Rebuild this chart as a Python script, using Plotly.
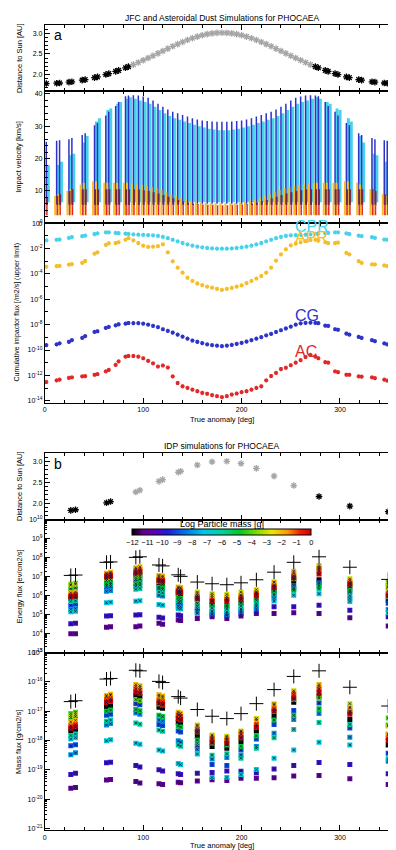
import plotly.graph_objects as go

# ---------------- DATA: panel a (JFC / asteroidal dust) ----------------
ta_a = [1.5, 12, 15, 24.5, 27.5, 38, 41, 50.5, 53.5, 62, 65, 72, 75, 82, 85,
        90, 95, 100, 105, 110, 115, 120, 125, 130, 135, 140, 145, 150, 155, 160, 165, 170, 175,
        180, 185, 190, 195, 200, 205, 210, 215, 220, 225, 230, 235, 240, 245, 250, 255, 260, 265, 270,
        275, 278, 285, 288, 295, 298, 306.5, 309.5, 319, 322, 332.5, 335.5, 345, 348, 358.5]
r_a = [1.788, 1.796, 1.801, 1.821, 1.830, 1.869, 1.882, 1.931, 1.948, 2.004, 2.026, 2.080, 2.105, 2.167, 2.195,
       2.244, 2.295, 2.348, 2.403, 2.458, 2.515, 2.572, 2.629, 2.684, 2.738, 2.789, 2.837, 2.880, 2.918, 2.951,
       2.977, 2.996, 3.008, 3.012, 3.008, 2.996, 2.977, 2.951, 2.918, 2.880, 2.837, 2.789, 2.738, 2.684, 2.629,
       2.572, 2.515, 2.458, 2.403, 2.348, 2.295, 2.244,
       2.195, 2.167, 2.105, 2.080, 2.026, 2.004, 1.948, 1.931, 1.882, 1.869, 1.830, 1.821, 1.801, 1.796, 1.788]

# impact velocity ranges [km/s]
v_cg_max = [25.2, 25.5, 25.7, 26.0, 26.4, 27.3, 27.8, 30.3, 31.0, 33.3, 34.5, 36.3, 37.5, 39.3, 39.5,
            39.6, 39.5, 39.2, 38.8, 38.0, 37.0, 36.0, 35.2, 34.5, 34.0, 33.5, 33.0, 32.5, 32.1, 31.8, 31.6, 31.5, 31.4,
            31.4, 31.4, 31.5, 31.6, 31.8, 32.1, 32.5, 33.0, 33.5, 34.0, 34.5, 35.2, 36.0, 37.0, 38.0, 38.8, 39.2, 39.5, 39.6,
            39.5, 39.3, 37.5, 36.3, 34.5, 33.3, 31.0, 30.3, 27.8, 27.3, 26.4, 26.0, 25.7, 25.5, 25.2]
v_cpr_max = [18.0, 18.0, 19.0, 21.0, 21.5, 25.0, 27.0, 31.5, 32.5, 35.0, 35.5, 37.0, 37.5, 38.5, 39.0,
             38.5, 38.0, 37.5, 37.0, 36.0, 35.0, 34.0, 33.2, 32.5, 32.0, 31.5, 31.0, 30.5, 30.0, 29.6, 29.2, 29.0, 28.8,
             28.8, 28.8, 29.0, 29.2, 29.6, 30.0, 30.5, 31.0, 31.5, 32.0, 32.5, 33.2, 34.0, 35.0, 36.0, 37.0, 37.5, 38.0, 38.5,
             39.0, 38.5, 37.5, 37.0, 35.5, 35.0, 32.5, 31.5, 27.0, 25.0, 21.5, 21.0, 19.0, 18.0, 18.0]
v_apr_max = [8.0, 8.5, 9.0, 10.0, 10.5, 12.0, 12.5, 13.0, 13.0, 12.5, 12.5, 12.5, 12.5, 12.5, 12.5,
             12.2, 12.0, 11.8, 11.5, 11.2, 10.8, 10.3, 9.6, 9.0, 8.4, 7.8, 7.3, 6.9, 6.6, 6.4, 6.3, 6.2, 6.2,
             6.2, 6.2, 6.2, 6.3, 6.4, 6.6, 6.9, 7.3, 7.8, 8.4, 9.0, 9.6, 10.3, 10.8, 11.2, 11.5, 11.8, 12.0, 12.2,
             12.5, 12.5, 12.5, 12.5, 12.5, 12.5, 13.0, 13.0, 12.5, 12.0, 10.5, 10.0, 9.0, 8.5, 8.0]
v_ac_max = [8.0, 8.5, 9.0, 10.0, 10.5, 10.5, 10.5, 10.5, 10.5, 10.5, 10.5, 10.5, 10.5, 10.5, 10.5,
            10.5, 10.4, 10.2, 10.0, 9.6, 9.2, 8.7, 8.2, 7.7, 7.2, 6.8, 6.4, 6.1, 5.9, 5.8, 5.7, 5.7, 5.6,
            5.6, 5.6, 5.7, 5.7, 5.8, 5.9, 6.1, 6.4, 6.8, 7.2, 7.7, 8.2, 8.7, 9.2, 9.6, 10.0, 10.2, 10.4, 10.5,
            10.5, 10.5, 10.5, 10.5, 10.5, 10.5, 10.5, 10.5, 10.5, 10.5, 10.5, 10.0, 9.0, 8.5, 8.0]
v_cg_min = 6.0
v_cpr_min = 6.5
v_apr_min = 2.5
v_ac_min = 2.5
v_ac_low_top = 5.5

# cumulative impactor flux, log10 [/m2/s]
logf_cpr = [-1.35, -1.3, -1.28, -1.15, -1.1, -1.02, -0.98, -0.85, -0.8, -0.72, -0.72, -0.76, -0.78, -0.82, -0.84,
            -0.88, -0.9, -0.92, -0.94, -0.96, -1.0, -1.08, -1.18, -1.3, -1.43, -1.56, -1.67, -1.77, -1.85, -1.9, -1.95, -1.98, -2.0,
            -2.0, -2.0, -1.98, -1.95, -1.9, -1.85, -1.77, -1.67, -1.56, -1.43, -1.3, -1.18, -1.08, -1.0, -0.96, -0.94, -0.92, -0.9, -0.88,
            -0.84, -0.82, -0.78, -0.76, -0.72, -0.72, -0.8, -0.85, -0.98, -1.02, -1.1, -1.15, -1.28, -1.3, -1.35]
logf_apr = [-3.43, -3.38, -3.36, -3.27, -3.22, -3.12, -2.98, -2.4, -2.3, -1.7, -1.58, -1.56, -1.5, -1.3, -1.17,
            -1.35, -1.56, -1.77, -1.87, -1.84, -1.8, -1.66, -2.3, -3.0, -3.5, -3.9, -4.3, -4.55, -4.75, -4.88, -5.0, -5.08, -5.17,
            -5.25, -5.18, -5.1, -5.0, -4.9, -4.72, -4.55, -4.36, -4.16, -3.9, -3.5, -2.95, -2.45, -2.05, -1.75, -1.6, -1.5, -1.4, -1.32,
            -1.3, -1.35, -1.5, -1.56, -1.56, -1.52, -2.34, -2.45, -2.99, -3.12, -3.25, -3.25, -3.33, -3.38, -3.43]
logf_cg = [-9.61, -9.55, -9.48, -9.35, -9.22, -9.04, -8.91, -8.57, -8.52, -8.26, -8.18, -8.05, -7.97, -7.92, -7.87,
           -7.88, -7.88, -7.92, -8.0, -8.1, -8.2, -8.36, -8.49, -8.62, -8.78, -8.94, -9.1, -9.25, -9.35, -9.45, -9.56, -9.61, -9.66,
           -9.69, -9.66, -9.6, -9.52, -9.43, -9.33, -9.22, -9.1, -8.98, -8.85, -8.72, -8.58, -8.44, -8.3, -8.15, -8.0, -7.9, -7.86, -7.84,
           -7.86, -7.88, -8.08, -8.1, -8.36, -8.4, -8.7, -8.78, -8.96, -9.04, -9.22, -9.3, -9.48, -9.55, -9.61]
logf_ac = [-12.52, -12.39, -12.34, -12.2, -12.16, -12.08, -12.06, -11.95, -11.9, -11.69, -11.56, -11.17, -10.9, -10.52, -10.47,
           -10.47, -10.52, -10.65, -10.85, -11.05, -11.3, -11.22, -11.38, -12.08, -12.6, -12.86, -12.99, -13.12, -13.25, -13.38, -13.45, -13.56, -13.64,
           -13.71, -13.64, -13.51, -13.43, -13.32, -13.25, -13.12, -12.99, -12.86, -12.4, -12.05, -11.8, -11.5, -11.4, -11.2, -11.0, -10.8, -10.55, -10.39,
           -10.52, -10.65, -10.96, -11.0, -11.69, -11.74, -11.95, -11.95, -12.08, -12.1, -12.16, -12.22, -12.34, -12.42, -12.52]
pop_names = ["CPR", "APR", "CG", "AC"]

# ---------------- DATA: panel b (IDP) ----------------
ta_b = [26.4, 31.2, 62.7, 66.8, 92.5, 96.6, 116.0, 119.7, 135.6, 138.0,
        155.0, 170.0, 185.0, 199.4, 215.0, 233.0, 253.0, 278.7, 310.0, 349.0]
r_b = [1.827, 1.842, 2.009, 2.039, 2.269, 2.312, 2.526, 2.568, 2.744, 2.769,
       2.918, 2.996, 3.008, 2.955, 2.837, 2.651, 2.425, 2.161, 1.928, 1.795]
mass_bins = [-12, -11, -10, -9, -8, -7, -6, -5, -4, -3, -2, -1, 0]
energy_total_log = [7.07, 7.09, 7.76, 7.78, 8.02, 8.05, 7.62, 7.57, 7.1, 7.02,
                    6.72, 6.63, 6.58, 6.68, 6.84, 7.24, 7.76, 8.05, 7.5, 6.86]
mass_total_log = [-16.67, -16.64, -15.9, -15.88, -15.6, -15.62, -15.98, -16.02, -16.5, -16.55,
                  -16.94, -17.17, -17.25, -17.08, -16.74, -16.26, -15.81, -15.62, -16.18, -16.82]
energy_log = [
    [5.85, 4.0, 4.52, 5.5, 5.28, 5.15, 5.7, 6.37, 6.6, 6.55, 6.16, 6.02, 5.95],
    [5.88, 4.0, 4.55, 5.55, 5.32, 5.18, 5.73, 6.42, 6.66, 6.6, 6.2, 6.06, 5.98],
    [6.8, 4.34, 4.93, 6.46, 6.23, 5.63, 6.55, 6.63, 6.9, 7.15, 7.19, 7.05, 6.98],
    [6.85, 4.36, 4.95, 6.5, 6.28, 5.66, 6.6, 6.68, 6.95, 7.2, 7.24, 7.1, 7.02],
    [7.07, 4.37, 4.98, 6.84, 6.5, 5.71, 6.34, 6.63, 6.95, 7.4, 7.47, 7.29, 7.2],
    [7.1, 4.4, 5.0, 6.88, 6.55, 5.74, 6.38, 6.68, 7.0, 7.44, 7.52, 7.34, 7.25],
    [6.63, 4.55, 4.86, 6.37, 6.02, 5.54, 6.2, 6.45, 6.75, 7.0, 7.07, 6.86, 6.8],
    [6.6, 4.5, 4.82, 6.33, 5.98, 5.5, 6.15, 6.42, 6.72, 6.97, 7.04, 6.83, 6.76],
    [6.11, 4.72, 4.98, 5.63, 5.45, 5.33, 5.75, 5.9, 6.2, 6.4, 6.46, 6.28, 6.2],
    [6.08, 4.7, 4.95, 5.6, 5.42, 5.3, 5.72, 5.87, 6.17, 6.37, 6.43, 6.25, 6.17],
    [5.8, 4.8, 5.2, 5.33, 5.1, 5.07, 5.45, 5.6, 6.0, 6.19, 6.1, 5.93, 5.85],
    [5.5, 4.89, 5.0, 5.15, 5.05, 5.2, 5.35, 5.55, 5.9, 6.11, 6.0, 5.76, 5.7],
    [5.42, 4.8, 4.95, 5.07, 5.0, 5.15, 5.3, 5.5, 5.85, 6.07, 5.95, 5.8, 5.7],
    [5.59, 4.93, 5.05, 5.24, 5.15, 5.3, 5.45, 5.65, 6.0, 6.19, 6.05, 5.9, 5.8],
    [5.76, 5.07, 5.2, 5.42, 5.3, 5.5, 5.6, 5.85, 6.15, 6.32, 6.2, 6.1, 6.0],
    [6.28, 5.07, 5.42, 6.02, 5.85, 5.72, 6.1, 6.25, 6.55, 6.7, 6.72, 6.5, 6.42],
    [6.8, 5.1, 5.42, 6.54, 6.4, 6.02, 6.28, 6.35, 6.9, 7.2, 7.29, 7.05, 6.95],
    [6.84, 5.07, 5.5, 6.7, 6.63, 6.11, 6.37, 6.5, 7.3, 7.59, 7.5, 7.41, 7.15],
    [6.46, 4.84, 5.24, 6.19, 5.85, 5.7, 6.0, 6.3, 6.6, 6.89, 6.8, 6.67, 6.6],
    [5.76, 4.4, 4.89, 5.6, 5.28, 5.1, 5.95, 6.46, 6.72, 6.6, 6.25, 6.1, 6.0],
]
massflux_log = [
    [-17.67, -19.63, -19.16, -18.18, -18.48, -17.95, -17.83, -17.22, -17.08, -17.15, -17.36, -17.5, -17.58],
    [-17.63, -19.6, -19.12, -18.14, -18.42, -17.9, -17.78, -17.17, -17.03, -17.1, -17.31, -17.45, -17.53],
    [-16.86, -19.35, -18.76, -17.14, -17.47, -18.01, -17.34, -17.0, -16.7, -16.5, -16.46, -16.61, -16.7],
    [-16.82, -19.33, -18.74, -17.1, -17.42, -17.97, -17.3, -16.96, -16.66, -16.46, -16.42, -16.57, -16.66],
    [-16.46, -19.4, -18.85, -16.74, -17.06, -18.09, -17.4, -16.94, -16.6, -16.15, -16.09, -16.24, -16.35],
    [-16.5, -19.45, -18.9, -16.78, -17.1, -18.13, -17.44, -16.98, -16.64, -16.19, -16.13, -16.28, -16.39],
    [-16.86, -19.47, -19.0, -17.45, -17.3, -18.32, -17.64, -17.14, -16.75, -16.5, -16.44, -16.63, -16.72],
    [-16.9, -19.5, -19.04, -17.49, -17.34, -18.36, -17.68, -17.18, -16.79, -16.54, -16.48, -16.67, -16.76],
    [-17.38, -19.42, -19.13, -17.67, -18.01, -18.78, -18.15, -17.5, -17.25, -17.1, -17.03, -17.14, -17.25],
    [-17.42, -19.44, -19.16, -17.71, -18.05, -18.82, -18.19, -17.54, -17.29, -17.14, -17.07, -17.18, -17.29],
    [-17.85, -19.38, -19.12, -18.18, -18.3, -18.46, -18.1, -17.98, -17.7, -17.47, -17.5, -17.62, -17.7],
    [-18.2, -19.34, -19.09, -18.82, -18.63, -19.26, -18.5, -18.09, -17.9, -17.81, -17.85, -17.95, -18.05],
    [-18.26, -19.36, -19.04, -18.85, -18.58, -19.26, -18.45, -18.15, -17.95, -17.85, -17.9, -18.0, -18.1],
    [-18.04, -19.29, -19.05, -18.32, -18.5, -19.16, -18.6, -18.2, -17.9, -17.67, -17.7, -17.78, -17.9],
    [-17.67, -19.29, -19.1, -17.95, -18.2, -18.99, -18.26, -17.84, -17.5, -17.25, -17.3, -17.45, -17.55],
    [-17.17, -19.27, -18.97, -17.45, -17.75, -18.6, -17.9, -17.3, -17.0, -16.74, -16.78, -16.91, -17.0],
    [-16.69, -19.21, -18.85, -16.97, -17.28, -18.32, -17.62, -17.14, -16.6, -16.3, -16.35, -16.43, -16.55],
    [-16.49, -19.19, -18.75, -16.72, -17.08, -18.06, -17.38, -16.91, -16.55, -16.15, -16.09, -16.24, -16.35],
    [-17.28, -19.3, -18.82, -17.57, -17.89, -18.15, -17.45, -17.0, -16.86, -16.74, -16.9, -17.03, -17.1],
    [-18.15, -19.5, -19.13, -18.43, -18.71, -18.62, -17.8, -17.47, -17.23, -17.5, -17.78, -17.92, -18.0],
]

# ---------------- STYLE ----------------
W, H = 396, 850
FONT = "Liberation Sans"
X0, X1 = 35, 391
PANELS = [(13, 80), (80, 213), (213, 394), (445, 512), (512, 646), (646, 825)]
C_CPR = "rgb(70,210,235)"
C_APR = "rgb(245,190,40)"
C_CG = "rgb(45,50,200)"
C_AC = "rgb(225,40,40)"
C_MAROON = "rgb(120,35,75)"
CSCALE = [[0, 'rgb(0,0,0)'], [0.06, 'rgb(100,0,130)'], [0.13, 'rgb(90,0,190)'], [0.2, 'rgb(25,30,220)'],
          [0.3, 'rgb(0,120,230)'], [0.4, 'rgb(0,200,230)'], [0.5, 'rgb(0,210,160)'], [0.6, 'rgb(0,200,40)'],
          [0.7, 'rgb(130,220,0)'], [0.78, 'rgb(240,230,0)'], [0.87, 'rgb(255,150,0)'], [0.94, 'rgb(240,30,0)'],
          [1, 'rgb(210,0,0)']]


def px2paper_y(y):
    return 1 - y / H


def segs(xs, lo, hi, dx):
    X, Y = [], []
    for i, x in enumerate(xs):
        l = lo[i] if isinstance(lo, list) else lo
        h = hi[i] if isinstance(hi, list) else hi
        if h <= l:
            continue
        X += [x + dx, x + dx, None]
        Y += [l, h, None]
    return X, Y


fig = go.Figure()

# panel a: distance
dist_col_a = ['black' if (t < 88 or t > 272) else 'rgb(165,165,165)' for t in ta_a]
fig.add_trace(go.Scatter(x=ta_a, y=r_a, mode='markers', xaxis='x', yaxis='y',
                         marker=dict(symbol='asterisk-open', size=5.5, color=dist_col_a, line=dict(width=1.3))))

# panel a: velocity bars
for lo, hi, col, lw, dx in [(v_cpr_min, v_cpr_max, C_CPR, 3, 2.0),
                            (v_cg_min, v_cg_max, C_CG, 1.5, 0.0),
                            (v_apr_min, v_apr_max, C_APR, 2, -1.5),
                            (v_ac_low_top, v_ac_max, C_MAROON, 2, 0.6),
                            (v_ac_min, v_ac_low_top, C_AC, 1.5, 0.6)]:
    X, Y = segs(ta_a, lo, hi, dx)
    fig.add_trace(go.Scatter(x=X, y=Y, mode='lines', xaxis='x2', yaxis='y2',
                             line=dict(color=col, width=lw)))

# panel a: flux
for vals, col in [(logf_cpr, C_CPR), (logf_apr, C_APR), (logf_cg, C_CG), (logf_ac, C_AC)]:
    fig.add_trace(go.Scatter(x=ta_a, y=[10 ** v for v in vals], mode='markers', xaxis='x3', yaxis='y3',
                             marker=dict(symbol='asterisk-open', size=3.5, color=col, line=dict(width=1.2))))

# panel b: distance
dist_col_b = ['black' if (t < 80 or t > 270) else 'rgb(165,165,165)' for t in ta_b]
fig.add_trace(go.Scatter(x=ta_b, y=r_b, mode='markers', xaxis='x4', yaxis='y4',
                         marker=dict(symbol='asterisk-open', size=5.5, color=dist_col_b, line=dict(width=1.3))))


def add_squares(table, totals, xa, ya, showscale):
    xs, ys, cs = [], [], []
    for i, t in enumerate(ta_b):
        for j, m in enumerate(mass_bins):
            xs.append(t)
            ys.append(10 ** table[i][j])
            cs.append(m)
    mk = dict(symbol='square', size=5, color=cs, colorscale=CSCALE, cmin=-12, cmax=0, line=dict(width=0))
    if showscale:
        mk.update(showscale=True, colorbar=dict(
            orientation='h', x=213 / W, xanchor='center', y=px2paper_y(524), yanchor='middle',
            len=180 / W, lenmode='fraction', thickness=6, outlinewidth=1, outlinecolor='black',
            xpad=0, ypad=0, tickvals=mass_bins, ticks='', tickfont=dict(size=7.5, family=FONT, color='black'),
            title=dict(text='Log Particle mass [g]', side='top', font=dict(size=9, family=FONT, color='black'))))
    fig.add_trace(go.Scatter(x=xs, y=ys, mode='markers', xaxis=xa, yaxis=ya, marker=mk))
    fig.add_trace(go.Scatter(x=xs, y=ys, mode='markers', xaxis=xa, yaxis=ya,
                             marker=dict(symbol='x-thin-open', size=2.5, color='rgba(20,20,60,0.75)', line=dict(width=1))))
    fig.add_trace(go.Scatter(x=ta_b, y=[10 ** v for v in totals], mode='markers', xaxis=xa, yaxis=ya,
                             marker=dict(symbol='cross-thin-open', size=10, color='black', line=dict(width=1))))


add_squares(energy_log, energy_total_log, 'x5', 'y5', True)
add_squares(massflux_log, mass_total_log, 'x6', 'y6', False)

# ---------------- AXES ----------------
tickfont = dict(size=7, family=FONT, color='black')
common = dict(showline=True, linecolor='black', linewidth=1, mirror='ticks', ticks='inside',
              ticklen=5, tickwidth=1, tickcolor='black', showgrid=False, zeroline=False, tickfont=tickfont)
layout = dict(width=W, height=H, margin=dict(l=0, r=0, t=0, b=0), showlegend=False,
              paper_bgcolor='white', plot_bgcolor='white')
for k in range(6):
    top, bot = PANELS[k]
    xn = 'xaxis' if k == 0 else 'xaxis%d' % (k + 1)
    yn = 'yaxis' if k == 0 else 'yaxis%d' % (k + 1)
    ya_ref = 'y' if k == 0 else 'y%d' % (k + 1)
    layout[xn] = dict(common, domain=[X0 / W, X1 / W], range=[0, 360], anchor=ya_ref,
                      tickvals=[0, 100, 200, 300], showticklabels=(k in (2, 5)),
                      minor=dict(dtick=20, ticks='inside', ticklen=3, tickcolor='black'))
    layout[yn] = dict(common, domain=[px2paper_y(bot), px2paper_y(top)], anchor='x' if k == 0 else 'x%d' % (k + 1))

for yn in ('yaxis', 'yaxis4'):
    layout[yn].update(range=[1.6, 3.2], tickvals=[2.0, 2.5, 3.0], ticktext=['2.0', '2.5', '3.0'],
                      minor=dict(dtick=0.1, ticks='inside', ticklen=3, tickcolor='black'))
layout['yaxis2'].update(range=[0, 40.8], tickvals=[0, 10, 20, 30, 40],
                        minor=dict(dtick=2, ticks='inside', ticklen=3, tickcolor='black'))


def logaxis(lo, hi, labs):
    tv = [10.0 ** e for e in labs]
    tt = ['10<sup>%d</sup>' % e for e in labs]
    return dict(type='log', range=[lo, hi], tickvals=tv, ticktext=tt)


layout['yaxis3'].update(logaxis(-14.16, 0, list(range(-14, 1, 2))))
layout['yaxis3']['minor'] = dict(tickvals=[10.0 ** e for e in range(-13, 0, 2)], ticks='inside', ticklen=3, tickcolor='black')
layout['yaxis5'].update(logaxis(3, 10, list(range(3, 11))))
layout['yaxis5']['minor'] = dict(tickvals=[m * 10.0 ** e for e in range(3, 10) for m in range(2, 10)],
                                 ticks='inside', ticklen=2.5, tickcolor='black')
layout['yaxis6'].update(logaxis(-21.06, -15, list(range(-21, -14))))
layout['yaxis6']['minor'] = dict(tickvals=[m * 10.0 ** e for e in range(-22, -15) for m in range(2, 10)],
                                 ticks='inside', ticklen=2.5, tickcolor='black')

# ---------------- TEXT ----------------
ann = []


def txt(text, xpx, ypx, size, angle=0, color='black', xanchor='center'):
    ann.append(dict(text=text, x=xpx / W, y=px2paper_y(ypx), xref='paper', yref='paper', showarrow=False,
                    textangle=angle, xanchor=xanchor, yanchor='middle',
                    font=dict(size=size, family=FONT, color=color)))


txt('JFC and Asteroidal Dust Simulations for PHOCAEA', 213, 6, 8.5)
txt('IDP simulations for PHOCAEA', 213, 438, 8.5)
txt('a', 48, 23, 14)
txt('b', 48, 456, 14)
txt('True anomaly [deg]', 213, 411, 7.5)
txt('True anomaly [deg]', 213, 840, 7.5)
txt('Distance to Sun [AU]', 9, 46.5, 7.5, -90)
txt('Impact velocity [km/s]', 9, 146, 7.5, -90)
txt('Cumulative impactor flux [/m2/s] (upper limit)', 7, 303, 7, -90)
txt('Distance to Sun [AU]', 9, 478, 7.5, -90)
txt('Energy flux [ev/cm2/s]', 9, 579, 7.5, -90)
txt('Mass flux [g/cm2/s]', 9, 736, 7.5, -90)

label_y = {"CPR": -0.25, "APR": -1.1, "CG": -7.3, "AC": -10.15}
label_c = {"CPR": C_CPR, "APR": C_APR, "CG": C_CG, "AC": C_AC}
for nm in pop_names:
    ann.append(dict(text=nm, x=252, y=label_y[nm], xref='x3', yref='y3', showarrow=False,
                    xanchor='left', yanchor='middle', font=dict(size=16, family=FONT, color=label_c[nm])))

layout['annotations'] = ann
fig.update_layout(**layout)
fig.write_html("out.html")
